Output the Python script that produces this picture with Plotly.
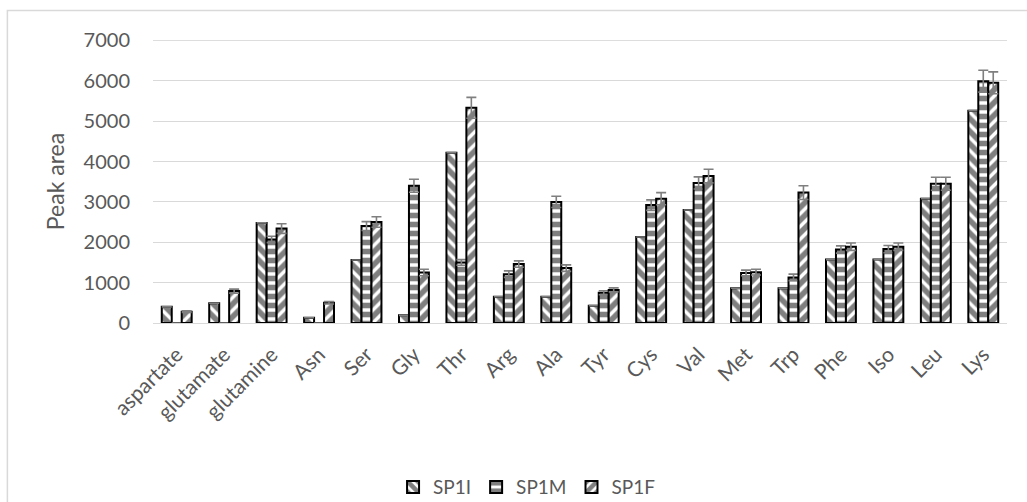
import plotly.graph_objects as go

amino_acids = ["aspartate", "glutamate", "glutamine", "Asn", "Ser", "Gly", "Thr", "Arg", "Ala",
               "Tyr", "Cys", "Val", "Met", "Trp", "Phe", "Iso", "Leu", "Lys"]

sp1i = [400, 490, 2480, 130, 1560, 190, 4220, 650, 650, 430, 2130, 2800, 860, 860, 1570, 1570, 3080, 5260]
sp1m = [0, 0, 2070, 0, 2400, 3400, 1500, 1210, 3000, 750, 2920, 3470, 1240, 1130, 1820, 1830, 3450, 5990]
sp1f = [280, 790, 2340, 500, 2500, 1250, 5330, 1460, 1360, 820, 3080, 3640, 1260, 3230, 1890, 1890, 3450, 5950]

sp1i_err = [0] * 18
sp1m_err = [0, 0, 80, 0, 110, 160, 70, 80, 140, 50, 130, 150, 70, 80, 90, 90, 160, 270]
sp1f_err = [20, 50, 120, 30, 130, 80, 260, 80, 80, 50, 150, 170, 70, 170, 90, 90, 160, 270]

series = [
    ("SP1I", sp1i, sp1i_err, "\\"),
    ("SP1M", sp1m, sp1m_err, "-"),
    ("SP1F", sp1f, sp1f_err, "/"),
]

FONT = "Lato"
GREY_TEXT = "#595959"

fig = go.Figure()
for name, vals, errs, shape in series:
    fig.add_trace(go.Bar(
        name=name,
        x=amino_acids,
        y=vals,
        marker=dict(
            color="white",
            line=dict(color="black", width=2),
            pattern=dict(shape=shape, fgcolor="black", bgcolor="white",
                         size=9, solidity=0.62, fillmode="overlay"),
        ),
        error_y=dict(type="data", array=errs, visible=True,
                     color="#7f7f7f", thickness=1.6, width=5),
    ))

fig.update_layout(
    width=1027, height=502,
    barmode="group",
    bargap=0.37,
    bargroupgap=0,
    plot_bgcolor="white",
    paper_bgcolor="white",
    margin=dict(l=153, r=20, t=40, b=179, autoexpand=False),
    font=dict(family=FONT, color=GREY_TEXT, size=20),
    showlegend=True,
    legend=dict(orientation="h", x=0.438, xanchor="center", y=-0.58, yanchor="middle",
                font=dict(size=19, color=GREY_TEXT), traceorder="normal",
                itemwidth=30),
    xaxis=dict(
        automargin=False,
        tickangle=-45,
        tickfont=dict(size=21, color=GREY_TEXT),
        ticklabelstandoff=10,
        showline=True, linecolor="#d9d9d9", linewidth=1,
        showgrid=False, ticks="",
    ),
    yaxis=dict(
        automargin=False,
        range=[0, 7010],
        tickvals=[0, 1000, 2000, 3000, 4000, 5000, 6000, 7000],
        tickfont=dict(size=20, color=GREY_TEXT),
        showgrid=True, gridcolor="#d9d9d9", gridwidth=1,
        zeroline=False, showline=False, ticks="",
        ticklabelstandoff=22,
        title=dict(text="Peak area", font=dict(size=23, color=GREY_TEXT), standoff=12),
    ),
    shapes=[
        dict(type="rect", xref="paper", yref="paper",
             x0=-0.1705, x1=1.05, y0=-0.7, y1=1.104,
             line=dict(color="#d9d9d9", width=1.5), fillcolor="rgba(0,0,0,0)", layer="below"),
        dict(type="line", xref="paper", yref="y", x0=0, x1=1, y0=7000, y1=7000,
             line=dict(color="#d9d9d9", width=1), layer="below"),
    ],
)

fig.write_html("out.html")
